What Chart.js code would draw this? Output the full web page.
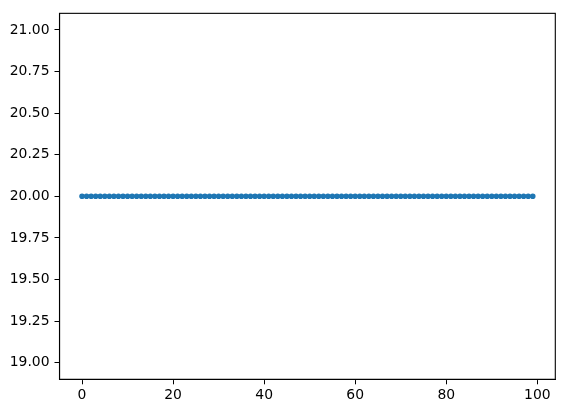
<!DOCTYPE html>
<html>
<head>
<meta charset="utf-8">
<script src="https://cdn.jsdelivr.net/npm/chart.js@4/dist/chart.umd.min.js"></script>
<style>
    html, body { margin: 0; padding: 0; background: #fff; }
    canvas { display: block; }
</style>
</head>
<body>
<canvas id="flatChart" width="565" height="413"></canvas>
<script>
const xValues = [
    0, 1, 2, 3, 4, 5, 6, 7, 8, 9, 10, 11, 12, 13, 14, 15, 16, 17, 18, 19,
    20, 21, 22, 23, 24, 25, 26, 27, 28, 29, 30, 31, 32, 33, 34, 35, 36, 37, 38, 39,
    40, 41, 42, 43, 44, 45, 46, 47, 48, 49, 50, 51, 52, 53, 54, 55, 56, 57, 58, 59,
    60, 61, 62, 63, 64, 65, 66, 67, 68, 69, 70, 71, 72, 73, 74, 75, 76, 77, 78, 79,
    80, 81, 82, 83, 84, 85, 86, 87, 88, 89, 90, 91, 92, 93, 94, 95, 96, 97, 98, 99
];
const yValues = [
    20, 20, 20, 20, 20, 20, 20, 20, 20, 20, 20, 20, 20, 20, 20, 20, 20, 20, 20, 20,
    20, 20, 20, 20, 20, 20, 20, 20, 20, 20, 20, 20, 20, 20, 20, 20, 20, 20, 20, 20,
    20, 20, 20, 20, 20, 20, 20, 20, 20, 20, 20, 20, 20, 20, 20, 20, 20, 20, 20, 20,
    20, 20, 20, 20, 20, 20, 20, 20, 20, 20, 20, 20, 20, 20, 20, 20, 20, 20, 20, 20,
    20, 20, 20, 20, 20, 20, 20, 20, 20, 20, 20, 20, 20, 20, 20, 20, 20, 20, 20, 20
];
const xTicks = [0, 20, 40, 60, 80, 100];
const yTicks = [19.00, 19.25, 19.50, 19.75, 20.00, 20.25, 20.50, 20.75, 21.00];

// рамка вокруг области графика, как у matplotlib
const frame = {
    id: 'frame',
    afterDraw(chart) {
        const a = chart.chartArea;
        const c = chart.ctx;
        c.save();
        c.strokeStyle = '#000';
        c.lineWidth = 1.1;
        c.strokeRect(a.left, a.top, a.right - a.left, a.bottom - a.top);
        c.restore();
    }
};

const tickFont = { family: 'DejaVu Sans', size: 13.9 };

new Chart(document.getElementById('flatChart'), {
    type: 'line',
    data: {
        datasets: [{
            data: xValues.map((x, i) => ({ x: x, y: yValues[i] })),
            borderColor: '#1f77b4',
            backgroundColor: '#1f77b4',
            borderWidth: 2,
            pointRadius: 2.1,
            pointBorderWidth: 1.4,
            pointBorderColor: '#1f77b4',
            pointBackgroundColor: '#1f77b4',
            fill: false
        }]
    },
    options: {
        responsive: false,
        animation: false,
        layout: { padding: { top: 10, right: 9.7, left: 0, bottom: 0 } },
        plugins: {
            legend: { display: false },
            tooltip: { enabled: false }
        },
        scales: {
            x: {
                type: 'linear',
                min: -4.95,
                max: 103.95,
                afterBuildTicks: s => { s.ticks = xTicks.map(v => ({ value: v })); },
                afterFit: s => { s.height = 33.7; },
                grid: { display: true, drawOnChartArea: false, color: '#000', tickLength: 5, tickWidth: 1 },
                border: { display: true, color: '#000', width: 1.1 },
                ticks: { color: '#000', font: tickFont, padding: 3, maxRotation: 0, callback: v => String(v) }
            },
            y: {
                type: 'linear',
                min: 18.9,
                max: 21.1,
                afterBuildTicks: s => { s.ticks = yTicks.map(v => ({ value: v })); },
                afterFit: s => { s.width = 59.5; },
                grid: { display: true, drawOnChartArea: false, color: '#000', tickLength: 5, tickWidth: 1 },
                border: { display: true, color: '#000', width: 1.1 },
                ticks: { color: '#000', font: tickFont, padding: 5, callback: v => v.toFixed(2) }
            }
        }
    },
    plugins: [frame]
});
</script>
</body>
</html>
